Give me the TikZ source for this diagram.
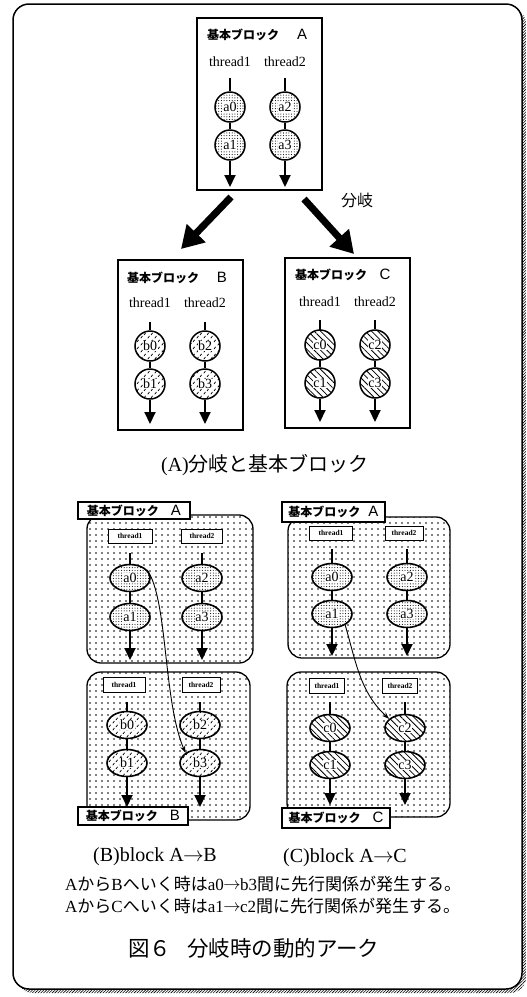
\documentclass[tikz,border=0pt]{standalone}
\usepackage{fontspec}
\setmainfont{Liberation Serif}
\newfontfamily\jp{Noto Sans CJK JP}
\newfontfamily\sansf{Liberation Sans}
\usetikzlibrary{patterns,patterns.meta,arrows.meta,shapes.geometric}

\pgfdeclarepatternformonly{shortdash}{\pgfqpoint{0pt}{0pt}}{\pgfqpoint{7pt}{7pt}}{\pgfqpoint{7pt}{7pt}}{%
  \pgfsetlinewidth{0.8pt}\pgfsetroundcap
  \pgfpathmoveto{\pgfqpoint{1pt}{1pt}}\pgfpathlineto{\pgfqpoint{2.6pt}{3.2pt}}%
  \pgfpathmoveto{\pgfqpoint{4.5pt}{4.5pt}}\pgfpathlineto{\pgfqpoint{6.1pt}{6.7pt}}%
  \pgfusepath{stroke}}

\newcommand{\fs}[1]{\fontsize{#1}{#1}\selectfont}
\newcommand{\wb}[1]{{\setlength{\fboxsep}{0.5pt}\colorbox{white}{#1}}}
\newcommand{\rarr}{\hspace{-0.5pt}\raisebox{0.5pt}{$\rightarrow$}\hspace{-0.5pt}}

\tikzset{
  blkbox/.style={draw, line width=2.2pt, inner sep=0pt},
  thr/.style={line width=2pt},
  thrend/.style={line width=2pt, -{Triangle[length=12pt,width=11pt]}},
  bigarr/.style={line width=7pt, -{Triangle[length=22pt,width=25pt]}},
  cir/.style={circle, draw, line width=1.5pt, minimum size=30pt, inner sep=0pt, font=\fs{14}, preaction={fill=white}},
  ell/.style={ellipse, draw, line width=1.6pt, minimum width=40pt, minimum height=27pt, inner sep=0pt, font=\fs{14}, preaction={fill=white}},
  pA/.style={pattern={Dots[distance=2.7pt, radius=0.55pt]}},
  pB/.style={pattern=shortdash},
  pC/.style={pattern={Lines[angle=-45, distance=4.5pt, line width=0.8pt]}},
  region/.style={draw, line width=1.3pt, rounded corners=14pt, inner sep=0pt, preaction={fill=white}, pattern={Dots[distance=6pt, radius=0.85pt]}},
  tag/.style={draw, line width=1.2pt, fill=white, inner sep=0pt},
  tbox/.style={draw, line width=0.9pt, fill=white, inner sep=0pt, font=\fs{7.5}\bfseries},
  curv/.style={line width=0.9pt, -{Stealth[length=7pt,width=5pt]}},
  thrlbl/.style={font=\fs{14}, inner sep=0pt},
  jtitle/.style={font=\jp\bfseries\fs{12}, inner sep=0pt, anchor=west},
  ltitle/.style={font=\sansf\fs{15}, inner sep=0pt},
}

\begin{document}
\begin{tikzpicture}[x=1pt,y=-1pt]
\useasboundingbox (0,0) rectangle (527,997);
% outer frame with hatched shadow
\fill[pattern={Lines[angle=45, distance=2pt, line width=0.6pt]}, rounded corners=16pt] (17,8) rectangle (526,993);
\draw[line width=1.5pt, fill=white, rounded corners=16pt] (13,4) rectangle (522,989);

% ---------------- (A) top: block A ----------------
\node[blkbox, minimum width=125pt, minimum height=172pt] (blkA) at (259.5,104) {};
\node[jtitle] (tA) at (207,35) {基本ブロック};
\node[ltitle] (lA) at (302,34) {A};
\node[thrlbl] (thA1) at (230,62) {thread1};
\node[thrlbl] (thA2) at (285,62) {thread2};
\node[cir,pA] (ta0) at (230,107) {\wb{a0}};
\node[cir,pA] (ta1) at (230,145) {\wb{a1}};
\node[cir,pA] (ta2) at (285,107) {\wb{a2}};
\node[cir,pA] (ta3) at (285,145) {\wb{a3}};
\coordinate (sA1) at (230,78); \coordinate (eA1) at (230,187);
\coordinate (sA2) at (285,78); \coordinate (eA2) at (285,187);
\draw[thr] (sA1) -- (ta0); \draw[thr] (ta0) -- (ta1); \draw[thrend] (ta1) -- (eA1);
\draw[thr] (sA2) -- (ta2); \draw[thr] (ta2) -- (ta3); \draw[thrend] (ta3) -- (eA2);

% branch arrows
\coordinate (bl0) at (231,197); \coordinate (bl1) at (181,249);
\coordinate (br0) at (304,199); \coordinate (br1) at (354,254);
\draw[bigarr] (bl0) -- (bl1);
\draw[bigarr] (br0) -- (br1);
\node[font=\jp\fs{16}, inner sep=0pt] (bunki) at (357,200) {分岐};

% block B
\node[blkbox, minimum width=125pt, minimum height=170pt] (blkB) at (180.5,345) {};
\node[jtitle] (tB) at (127,278) {基本ブロック};
\node[ltitle] (lB) at (222,277) {B};
\node[thrlbl] (thB1) at (150,303) {thread1};
\node[thrlbl] (thB2) at (205,303) {thread2};
\node[cir,pB] (tb0) at (150,346) {\wb{b0}};
\node[cir,pB] (tb1) at (150,384) {\wb{b1}};
\node[cir,pB] (tb2) at (205,346) {\wb{b2}};
\node[cir,pB] (tb3) at (205,384) {\wb{b3}};
\coordinate (sB1) at (150,322); \coordinate (eB1) at (150,424);
\coordinate (sB2) at (205,322); \coordinate (eB2) at (205,424);
\draw[thr] (sB1) -- (tb0); \draw[thr] (tb0) -- (tb1); \draw[thrend] (tb1) -- (eB1);
\draw[thr] (sB2) -- (tb2); \draw[thr] (tb2) -- (tb3); \draw[thrend] (tb3) -- (eB2);

% block C
\node[blkbox, minimum width=125pt, minimum height=170pt] (blkC) at (347.5,343) {};
\node[jtitle] (tC) at (295,275) {基本ブロック};
\node[ltitle] (lC) at (385,274) {C};
\node[thrlbl] (thC1) at (320,302) {thread1};
\node[thrlbl] (thC2) at (375,302) {thread2};
\node[cir,pC] (tc0) at (320,345) {\wb{c0}};
\node[cir,pC] (tc1) at (320,383) {\wb{c1}};
\node[cir,pC] (tc2) at (375,345) {\wb{c2}};
\node[cir,pC] (tc3) at (375,383) {\wb{c3}};
\coordinate (sC1) at (320,320); \coordinate (eC1) at (320,422);
\coordinate (sC2) at (375,320); \coordinate (eC2) at (375,422);
\draw[thr] (sC1) -- (tc0); \draw[thr] (tc0) -- (tc1); \draw[thrend] (tc1) -- (eC1);
\draw[thr] (sC2) -- (tc2); \draw[thr] (tc2) -- (tc3); \draw[thrend] (tc3) -- (eC2);

\node[font=\fs{20}, inner sep=0pt] (capA) at (265,465) {(A){\jp 分岐と基本ブロック}};

% ---------------- (B) lower left ----------------
\node[region, minimum width=166pt, minimum height=148pt] (rgLA) at (170,589) {};
\node[tag, minimum width=112pt, minimum height=17pt] (tgLA) at (134,510.5) {{\jp\bfseries\fs{12}基本ブロック}\hspace{12pt}{\sansf\fs{15}A}};
\node[tbox, minimum width=44pt, minimum height=14pt] (xla1) at (130,536) {thread1};
\node[tbox, minimum width=41pt, minimum height=14pt] (xla2) at (202,536) {thread2};
\node[ell,pA] (la0) at (130,578) {\wb{a0}};
\node[ell,pA] (la1) at (130,617) {\wb{a1}};
\node[ell,pA] (la2) at (202,578) {\wb{a2}};
\node[ell,pA] (la3) at (202,617) {\wb{a3}};
\coordinate (sla1) at (130,553); \coordinate (ela1) at (130,660);
\coordinate (sla2) at (202,553); \coordinate (ela2) at (202,660);
\draw[thr] (sla1) -- (la0); \draw[thr] (la0) -- (la1); \draw[thrend] (la1) -- (ela1);
\draw[thr] (sla2) -- (la2); \draw[thr] (la2) -- (la3); \draw[thrend] (la3) -- (ela2);

\node[region, minimum width=163pt, minimum height=148pt] (rgLB) at (168.5,746) {};
\node[tbox, minimum width=42pt, minimum height=15pt] (xlb1) at (124,685) {thread1};
\node[tbox, minimum width=38pt, minimum height=15pt] (xlb2) at (201,685) {thread2};
\node[ell,pB] (lb0) at (127,725) {\wb{b0}};
\node[ell,pB] (lb1) at (127,763) {\wb{b1}};
\node[ell,pB] (lb2) at (200,725) {\wb{b2}};
\node[ell,pB] (lb3) at (200,763) {\wb{b3}};
\coordinate (slb1) at (127,702); \coordinate (elb1) at (127,807);
\coordinate (slb2) at (200,702); \coordinate (elb2) at (200,807);
\draw[thr] (slb1) -- (lb0); \draw[thr] (lb0) -- (lb1); \draw[thrend] (lb1) -- (elb1);
\draw[thr] (slb2) -- (lb2); \draw[thr] (lb2) -- (lb3); \draw[thrend] (lb3) -- (elb2);
\node[tag, minimum width=110pt, minimum height=18pt] (tgLB) at (133,816) {{\jp\bfseries\fs{12}基本ブロック}\hspace{12pt}{\sansf\fs{15}B}};

\draw[curv] (la0.25) .. controls (168,600) and (163,700) .. (lb3.145);

\node[font=\fs{20}, inner sep=0pt, anchor=west] (capB) at (93,857) {(B)block A\rarr B};

% ---------------- (C) lower right ----------------
\node[region, minimum width=162pt, minimum height=141pt] (rgRA) at (369,587.5) {};
\node[tag, minimum width=103pt, minimum height=20pt] (tgRA) at (333.5,512) {{\jp\bfseries\fs{12}基本ブロック}\hspace{8pt}{\sansf\fs{15}A}};
\node[tbox, minimum width=43pt, minimum height=14pt] (xra1) at (331,533) {thread1};
\node[tbox, minimum width=38pt, minimum height=14pt] (xra2) at (404,533) {thread2};
\node[ell,pA] (ra0) at (332,577) {\wb{a0}};
\node[ell,pA] (ra1) at (332,614) {\wb{a1}};
\node[ell,pA] (ra2) at (407,577) {\wb{a2}};
\node[ell,pA] (ra3) at (407,614) {\wb{a3}};
\coordinate (sra1) at (332,549); \coordinate (era1) at (332,656);
\coordinate (sra2) at (407,549); \coordinate (era2) at (407,656);
\draw[thr] (sra1) -- (ra0); \draw[thr] (ra0) -- (ra1); \draw[thrend] (ra1) -- (era1);
\draw[thr] (sra2) -- (ra2); \draw[thr] (ra2) -- (ra3); \draw[thrend] (ra3) -- (era2);

\node[region, minimum width=163pt, minimum height=145pt] (rgRC) at (368.5,744.5) {};
\node[tbox, minimum width=35pt, minimum height=15pt] (xrc1) at (327,686) {thread1};
\node[tbox, minimum width=35pt, minimum height=15pt] (xrc2) at (400,686) {thread2};
\node[ell,pC] (rc0) at (330,728) {\wb{c0}};
\node[ell,pC] (rc1) at (330,765) {\wb{c1}};
\node[ell,pC] (rc2) at (405,728) {\wb{c2}};
\node[ell,pC] (rc3) at (405,765) {\wb{c3}};
\coordinate (src1) at (330,702); \coordinate (erc1) at (330,805);
\coordinate (src2) at (405,702); \coordinate (erc2) at (405,805);
\draw[thr] (src1) -- (rc0); \draw[thr] (rc0) -- (rc1); \draw[thrend] (rc1) -- (erc1);
\draw[thr] (src2) -- (rc2); \draw[thr] (rc2) -- (rc3); \draw[thrend] (rc3) -- (erc2);
\node[tag, minimum width=108pt, minimum height=20pt] (tgRC) at (336,818) {{\jp\bfseries\fs{12}基本ブロック}\hspace{12pt}{\sansf\fs{15}C}};

\draw[curv] (ra1.-40) .. controls (356,662) and (360,692) .. (rc2.150);

\node[font=\fs{20}, inner sep=0pt, anchor=west] (capC) at (283,858) {(C)block A\rarr C};

% ---------------- texts ----------------
\node[font=\fs{17}, inner sep=0pt, anchor=west] (ln1) at (65,884) {A{\jp から}B{\jp へいく時は}a0\rarr b3{\jp 間に先行関係が発生する。}};
\node[font=\fs{17}, inner sep=0pt, anchor=west] (ln2) at (65,906) {A{\jp から}C{\jp へいく時は}a1\rarr c2{\jp 間に先行関係が発生する。}};
\node[font=\jp\fs{21.5}, inner sep=0pt, anchor=west] (fig) at (128,948) {図６\hspace{16pt}分岐時の動的アーク};
\end{tikzpicture}
\end{document}
